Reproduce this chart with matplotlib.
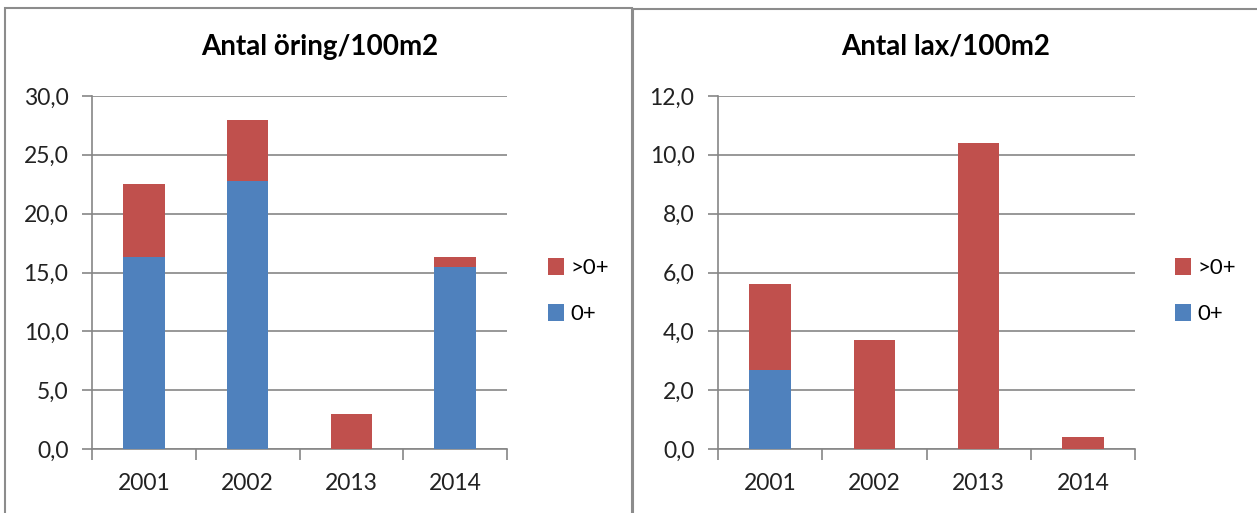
import matplotlib
matplotlib.use('Agg')
import matplotlib.pyplot as plt
from matplotlib.patches import Rectangle, Patch
from matplotlib.ticker import FuncFormatter
from matplotlib import rcParams

rcParams['font.family'] = ['Lato', 'DejaVu Sans']

# data
years = ['2001', '2002', '2013', '2014']
oring_0 = [16.3, 22.8, 0.0, 15.5]
oring_over0 = [6.2, 5.2, 3.0, 0.85]
lax_0 = [2.7, 0.0, 0.0, 0.0]
lax_over0 = [2.9, 3.7, 10.4, 0.4]

BLUE = '#4f81bd'
RED = '#c0504d'
GRID = '#868686'

W, H = 1257, 513
fig = plt.figure(figsize=(W / 100, H / 100), dpi=100, facecolor='white')

# panel frames (Excel chart areas)
fig.add_artist(Rectangle((5 / W, -0.05), 627 / W, 1 - 8 / H + 0.05,
                         transform=fig.transFigure, fill=False,
                         edgecolor='#8c8c8c', linewidth=1.5))
fig.add_artist(Rectangle((633 / W, -0.05), 640 / W, 1 - 9 / H + 0.05,
                         transform=fig.transFigure, fill=False,
                         edgecolor='#8c8c8c', linewidth=1.5))


def comma_fmt(v, pos):
    return f"{v:.1f}".replace('.', ',')


def draw(left_px, right_px, zero_vals, over_vals, ymax, step, title, title_x, leg_x):
    bottom = 1 - 449 / H
    top = 1 - 96 / H
    ax = fig.add_axes([left_px / W, bottom, (right_px - left_px) / W, top - bottom])
    x = range(len(years))
    ax.bar(x, zero_vals, width=0.4, color=BLUE, zorder=3, label='0+')
    ax.bar(x, over_vals, width=0.4, bottom=zero_vals, color=RED, zorder=3, label='>0+')
    ax.set_xlim(-0.5, len(years) - 0.5)
    ax.set_ylim(0, ymax)
    ax.set_yticks([i * step for i in range(int(round(ymax / step)) + 1)])
    ax.yaxis.set_major_formatter(FuncFormatter(comma_fmt))
    ax.yaxis.grid(True, color=GRID, linewidth=1.2, zorder=0)
    ax.set_xticks(list(x))
    ax.set_xticklabels(years)
    ax.set_xticks([i - 0.5 for i in range(len(years) + 1)], minor=True)
    ax.tick_params(axis='x', which='major', length=0, pad=17, labelsize=16.5, labelcolor='#222222')
    ax.tick_params(axis='x', which='minor', length=8, width=1.2, color=GRID)
    ax.tick_params(axis='y', length=7, width=1.2, color=GRID, labelsize=16.5,
                   labelcolor='#222222', pad=10)
    for s in ['top', 'right']:
        ax.spines[s].set_visible(False)
    for s in ['left', 'bottom']:
        ax.spines[s].set_color(GRID)
        ax.spines[s].set_linewidth(1.2)
    fig.text(title_x / W, 1 - 47 / H, title, ha='center', va='center',
             fontsize=20, fontweight='bold', color='black')
    handles = [Patch(facecolor=RED, label='>0+'), Patch(facecolor=BLUE, label='0+')]
    fig.legend(handles=handles, loc='center left', bbox_to_anchor=(leg_x / W, 1 - 291 / H),
               frameon=False, fontsize=16, handlelength=0.7, handleheight=0.8,
               handletextpad=0.3, labelspacing=1.15, borderpad=0, borderaxespad=0)


draw(92, 507, oring_0, oring_over0, 30, 5, 'Antal öring/100m2', 320, 548)
draw(718, 1135, lax_0, lax_over0, 12, 2, 'Antal lax/100m2', 946, 1175)

fig.savefig('out.png', dpi=100, facecolor='white')
